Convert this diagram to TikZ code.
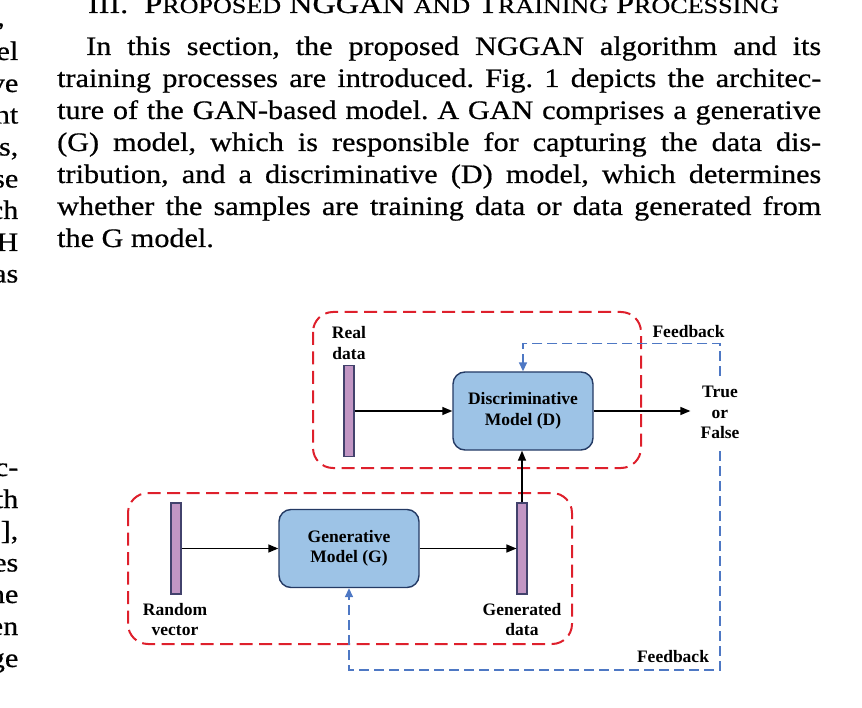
\documentclass[tikz,border=0pt]{standalone}
\usepackage{fontspec}
\setmainfont{Liberation Serif}
\newfontfamily\bodyfont[FakeStretch=1.13,FakeBold=0.6]{Liberation Serif}
\usetikzlibrary{arrows.meta}
\definecolor{redc}{RGB}{222,32,44}
\definecolor{bluec}{RGB}{78,120,196}
\definecolor{boxfill}{RGB}{157,195,230}
\definecolor{boxborder}{RGB}{36,58,100}
\definecolor{barfill}{RGB}{194,150,196}
\definecolor{barborder}{RGB}{66,66,108}
\tikzset{
  bodyline/.style={font=\bodyfont\fontsize{26.7}{32}\selectfont\frenchspacing, inner sep=0pt, anchor=base west},
  frag/.style={font=\bodyfont\fontsize{26.7}{32}\selectfont, inner sep=0pt, anchor=base east},
  lbl/.style={font=\fontsize{17.5}{20.5}\selectfont\bfseries, align=center, inner sep=0pt},
  model/.style={lbl, draw=boxborder, fill=boxfill, rounded corners=12pt, line width=1.4pt, minimum width=140pt, minimum height=78pt},
  databar/.style={draw=barborder, fill=barfill, line width=1.1pt, minimum width=10pt, minimum height=91pt, inner sep=0pt},
  redbox/.style={draw=redc, dash pattern=on 13pt off 6.5pt, line width=2pt, rounded corners=20pt},
  fb/.style={draw=bluec, dash pattern=on 10pt off 5pt, line width=1.6pt},
  fbarr/.style={fb, -{Triangle[length=9pt,width=8pt]}},
  arr/.style={-{Triangle[length=10pt,width=8pt]}, line width=1.4pt}
}
\newcommand{\sctext}[1]{{\fontsize{21.6}{26}\selectfont #1}}
\begin{document}
\begin{tikzpicture}[x=1pt,y=-1pt]
\useasboundingbox (0,0) rectangle (862,708);
% heading
\node[font=\bodyfont\fontsize{26.7}{32}\selectfont, inner sep=0pt, anchor=base] (head) at (433.5,13)
 {\resizebox{691pt}{\height}{III.\ \ P\sctext{ROPOSED} NGGAN \sctext{AND} T\sctext{RAINING} P\sctext{ROCESSING}}};
% body text
\node[bodyline] (l1) at (86,55) {\makebox[735pt][s]{In this section, the proposed NGGAN algorithm and its}};
\node[bodyline] (l2) at (57,87) {\makebox[764pt][s]{training processes are introduced. Fig. 1 depicts the architec-}};
\node[bodyline] (l3) at (57,119) {\makebox[764pt][s]{ture of the GAN-based model. A GAN comprises a generative}};
\node[bodyline] (l4) at (57,151) {\makebox[764pt][s]{(G) model, which is responsible for capturing the data dis-}};
\node[bodyline] (l5) at (57,183) {\makebox[764pt][s]{tribution, and a discriminative (D) model, which determines}};
\node[bodyline] (l6) at (57,215) {\makebox[764pt][s]{whether the samples are training data or data generated from}};
\node[bodyline] (l7) at (57,247) {the G model.};
% left column fragments
\node[frag] (f0) at (5,26) {,};
\node[frag] (f1) at (18.5,60) {el};
\node[frag] (f2) at (18.5,92) {ve};
\node[frag] (f3) at (18.5,123.5) {nt};
\node[frag] (f4) at (18.5,155.5) {s,};
\node[frag] (f5) at (18.5,187.5) {se};
\node[frag] (f6) at (18.5,219) {ch};
\node[frag] (f7) at (18.5,251) {H};
\node[frag] (f8) at (18.5,282.5) {as};
\node[frag] (g1) at (18.5,476) {c-};
\node[frag] (g2) at (18.5,508) {th};
\node[frag] (g3) at (18.5,539.5) {],};
\node[frag] (g4) at (18.5,571.5) {es};
\node[frag] (g5) at (18.5,603) {ne};
\node[frag] (g6) at (18.5,635) {en};
\node[frag] (g7) at (18.5,667) {ge};
% red dashed groups
\draw[redbox] (313,312) rectangle (641,468);
\draw[redbox] (128,493) rectangle (572,644);
% nodes
\node[model] (D) at (523,411) {Discriminative\\Model (D)};
\node[model] (G) at (349,548.5) {Generative\\Model (G)};
\node[databar] (real) at (349,411) {};
\node[databar] (rand) at (176,548.5) {};
\node[databar] (gen) at (522,548.5) {};
\node[lbl] (reallbl) at (349,343) {Real\\data};
\node[lbl] (randlbl) at (175,619.5) {Random\\vector};
\node[lbl] (genlbl) at (522,619.5) {Generated\\data};
\node[lbl] (TF) at (720,412.5) {True\\or\\False};
\node[lbl] (fbtop) at (688.5,332) {Feedback};
\node[lbl] (fbbot) at (673,657) {Feedback};
% connectors
\draw[arr] (real.east |- D.west) -- (D.west);
\draw[arr] (D.east) -- ([xshift=-10pt]TF.west |- D.east);
\draw[arr] (rand.east |- G.west) -- (G.west);
\draw[arr] (G.east) -- (gen.west |- G.east);
\draw[arr] (gen.north) -- (gen.north |- D.south);
% feedback loops
\coordinate (c1) at (720,343.5);
\coordinate (c2) at (720,670);
\draw[fbarr] ([yshift=10pt]TF.north) -- (c1) -| (D.north);
\draw[fbarr] ([yshift=-12pt]TF.south) -- (c2) -| (G.south);
\end{tikzpicture}
\end{document}
